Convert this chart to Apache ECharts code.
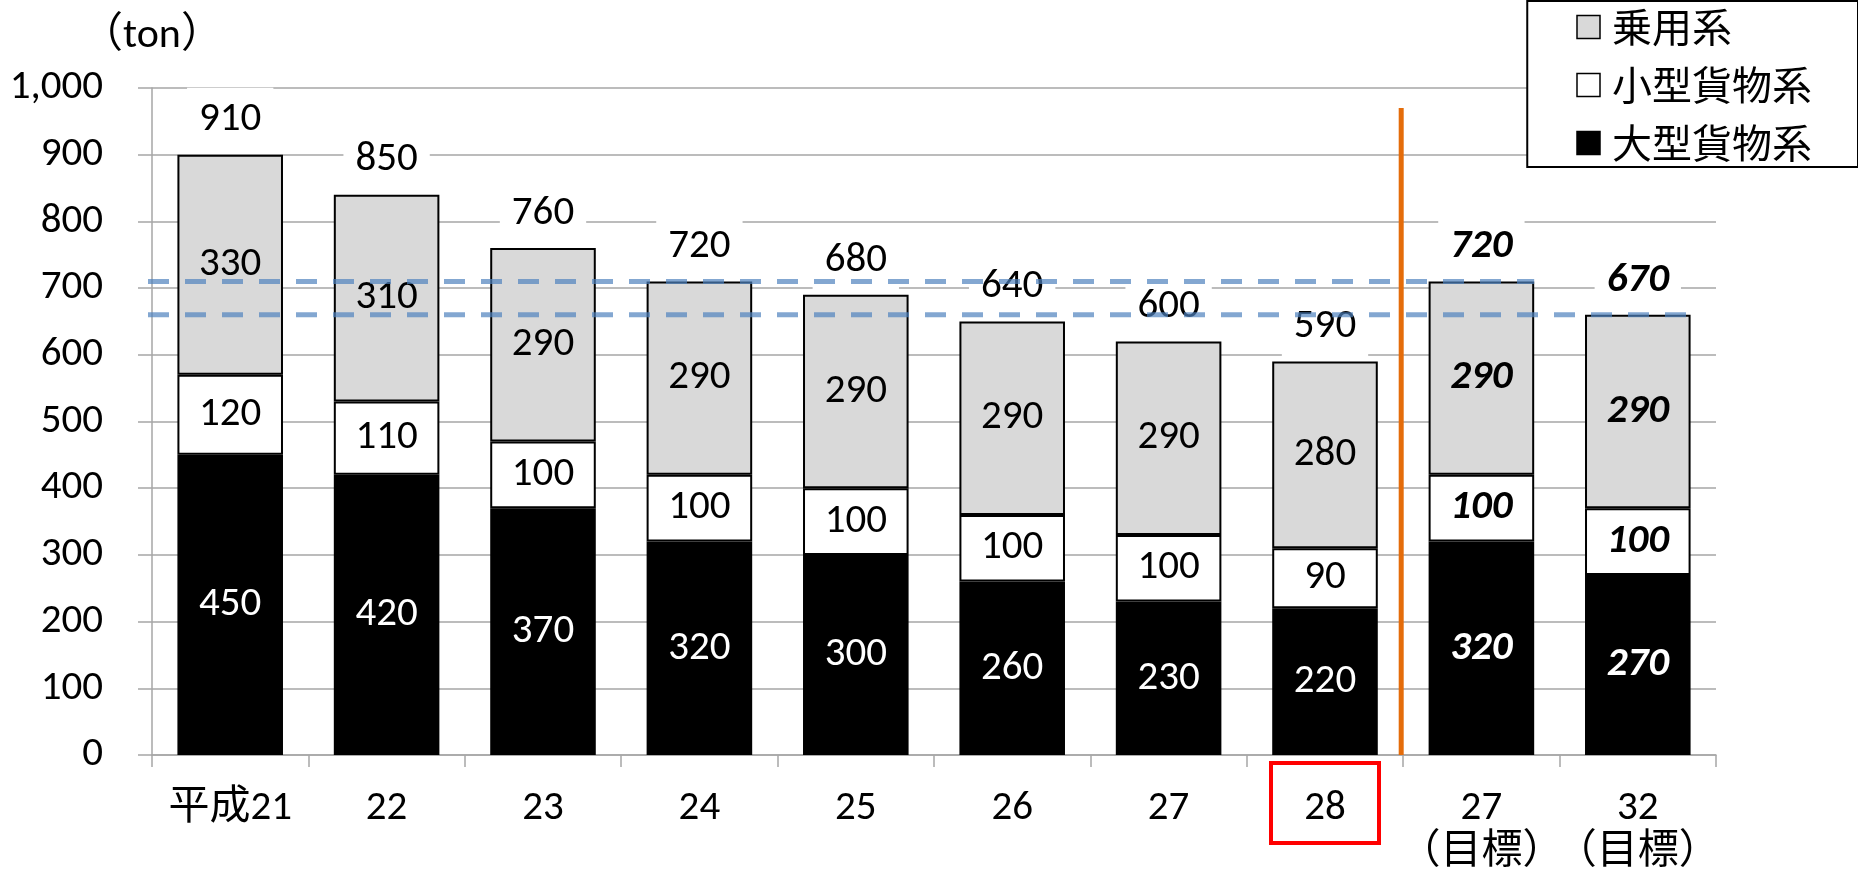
<!DOCTYPE html>
<html>
<head>
<meta charset="utf-8">
<script src="https://cdn.jsdelivr.net/npm/echarts@6/dist/echarts.min.js"></script>
<style>
  html, body { margin: 0; padding: 0; background: #fff; }
  #chart { width: 1858px; height: 878px; }
</style>
</head>
<body>
<div id="chart"></div>
<script>
// Fiscal years (Heisei) and the two target years
const categories = ['平成21', '22', '23', '24', '25', '26', '27', '28', '27\n（目標）', '32\n（目標）'];
// Segment values (ton)
const largeFreight = [450, 420, 370, 320, 300, 260, 230, 220, 320, 270];   // 大型貨物系
const smallFreight = [120, 110, 100, 100, 100, 100, 100, 90, 100, 100];    // 小型貨物系
const passenger    = [330, 310, 290, 290, 290, 290, 290, 280, 290, 290];   // 乗用系
// Stated totals printed above each column
const totals = [910, 850, 760, 720, 680, 640, 600, 590, 720, 670];
// Target columns (labels in bold italic) and the highlighted current year
const targetIdx = [8, 9];
const currentIdx = 7;
const seriesNames = ['乗用系', '小型貨物系', '大型貨物系'];

const FONT = "Carlito, 'Noto Sans CJK JP', sans-serif";
const CJK = "'Noto Sans CJK JP', sans-serif";
const FS = 41;

const chart = echarts.init(document.getElementById('chart'), null, { renderer: 'canvas' });

function segData(values, color) {
  return values.map((v, i) => targetIdx.includes(i)
    ? { value: v, label: { fontWeight: 'bold', fontStyle: 'italic', color } }
    : v);
}

function segSeries(name, values, fill, textColor) {
  return {
    name, type: 'bar', stack: 'total', barCategoryGap: '32.5%',
    itemStyle: { color: fill, borderColor: '#000', borderWidth: 2 },
    label: { show: true, position: 'inside', color: textColor, fontFamily: FONT, fontSize: FS },
    data: segData(values, textColor),
    z: 3
  };
}

const option = {
  animation: false,
  backgroundColor: '#fff',
  textStyle: { fontFamily: FONT },
  grid: { left: 152, right: 142, top: 88, bottom: 123, containLabel: false },
  legend: {
    data: seriesNames,
    orient: 'vertical',
    right: 0, top: 1,
    backgroundColor: '#fff',
    borderColor: '#000', borderWidth: 2, borderRadius: 0,
    padding: [6, 46, 4, 49],
    itemWidth: 23, itemHeight: 23, itemGap: 18,
    icon: 'rect',
    itemStyle: { borderColor: '#000', borderWidth: 1.5 },
    textStyle: { fontFamily: CJK, fontSize: 40, color: '#000', padding: [0, 0, 0, 7] },
    z: 20
  },
  xAxis: {
    type: 'category',
    data: categories,
    axisLine: { lineStyle: { color: '#a6a6a6', width: 1.5 } },
    axisTick: { show: true, length: 12, lineStyle: { color: '#a6a6a6', width: 1.5 } },
    axisLabel: { color: '#000', fontFamily: FONT, fontSize: FS, lineHeight: 44, margin: 32, interval: 0 }
  },
  yAxis: {
    type: 'value', min: 0, max: 1000, interval: 100,
    name: '（ton）',
    nameLocation: 'end', nameGap: 30,
    nameTextStyle: { color: '#000', fontFamily: FONT, fontSize: 42, align: 'center' },
    axisLine: { show: true, lineStyle: { color: '#a6a6a6', width: 1.5 } },
    axisTick: { show: true, length: 14, lineStyle: { color: '#a6a6a6', width: 1.5 } },
    axisLabel: { color: '#000', fontFamily: FONT, fontSize: FS, margin: 49 },
    splitLine: { lineStyle: { color: '#a6a6a6', width: 1.5 } }
  },
  series: [
    segSeries('大型貨物系', largeFreight, '#000', '#fff'),
    segSeries('小型貨物系', smallFreight, '#fff', '#000'),
    segSeries('乗用系', passenger, '#d9d9d9', '#000'),
    {
      // zero-height cap that carries the stated totals above each column
      name: 'total', type: 'bar', stack: 'total',
      itemStyle: { color: 'transparent', borderWidth: 0 },
      label: {
        show: true, position: 'top', distance: 2,
        color: '#000', fontFamily: FONT, fontSize: FS,
        backgroundColor: '#fff', padding: [12, 12],
        formatter: p => String(totals[p.dataIndex])
      },
      data: totals.map((t, i) => targetIdx.includes(i)
        ? { value: 0, label: { fontWeight: 'bold', fontStyle: 'italic' } }
        : 0),
      z: 4
    }
  ]
};

chart.setOption(option);

// Annotations positioned through the axes' own scales
const px = i => chart.convertToPixel({ xAxisIndex: 0 }, i);
const py = v => chart.convertToPixel({ yAxisIndex: 0 }, v);
const cw = px(1) - px(0);
const bw = cw * (1 - 0.325);
const gridLeft = px(0) - cw / 2;
const baseY = py(0);
const stackTop = i => largeFreight[i] + smallFreight[i] + passenger[i];

const graphics = [];
// Orange divider between results and targets
const divX = (px(currentIdx) + px(currentIdx + 1)) / 2 - 2;
graphics.push({
  type: 'line', z: 100,
  shape: { x1: divX, y1: py(970), x2: divX, y2: baseY },
  style: { stroke: '#e46c0a', lineWidth: 5 }
});
// Dashed reference lines at each target level
targetIdx.forEach(i => {
  const y = py(stackTop(i));
  graphics.push({
    type: 'line', z: 100,
    shape: { x1: gridLeft - 4, y1: y, x2: px(i) + bw / 2, y2: y },
    style: { stroke: 'rgba(79,129,189,0.7)', lineWidth: 5, lineDash: [21, 16] }
  });
});
// Red box around the current-year label
graphics.push({
  type: 'rect', z: 100,
  shape: { x: px(currentIdx) - 54, y: baseY + 8, width: 108, height: 80 },
  style: { fill: 'none', stroke: '#ff0000', lineWidth: 4 }
});

chart.setOption({ graphic: graphics });
</script>
</body>
</html>
